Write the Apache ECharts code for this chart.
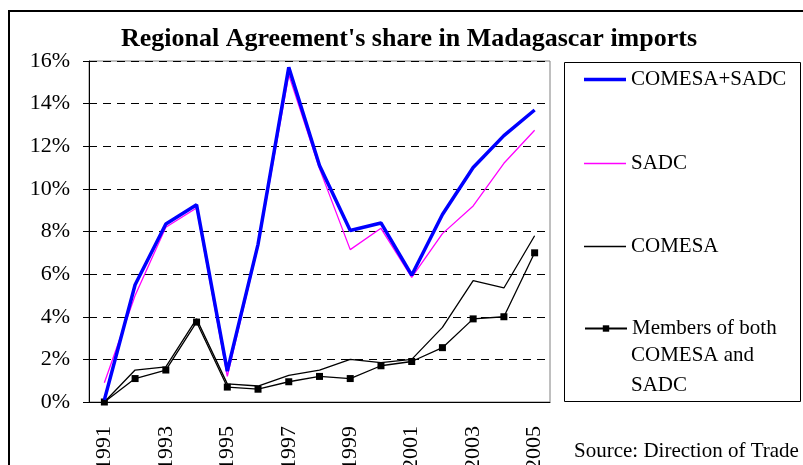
<!DOCTYPE html>
<html>
<head>
<meta charset="utf-8">
<script src="https://cdn.jsdelivr.net/npm/echarts@6/dist/echarts.min.js"></script>
<style>
  html, body { margin: 0; padding: 0; background: #fff; }
  #chart { width: 803px; height: 465px; }
</style>
</head>
<body>
<div id="chart"></div>
<script>
// data (% of Madagascar imports)
const years = ["1991", "1992", "1993", "1994", "1995", "1996", "1997", "1998",
  "1999", "2000", "2001", "2002", "2003", "2004", "2005"];
const comesaSadc = [0.1, 5.5, 8.35, 9.25, 1.45, 7.4, 15.7, 11.1, 8.05, 8.4, 5.95, 8.8, 11.0, 12.5, 13.7];
const sadc = [0.9, 5.0, 8.2, 9.1, 1.2, 7.3, 15.35, 10.95, 7.15, 8.15, 5.85, 7.9, 9.2, 11.2, 12.75];
const comesa = [0.0, 1.5, 1.65, 3.9, 0.85, 0.75, 1.25, 1.5, 2.0, 1.85, 2.0, 3.5, 5.7, 5.35, 7.8];
const bothMembers = [0.0, 1.1, 1.5, 3.75, 0.7, 0.6, 0.95, 1.2, 1.1, 1.7, 1.9, 2.55, 3.9, 4.0, 7.0];

const names = ["COMESA+SADC", "SADC", "COMESA", "Members of both"];

const FONT = '"Liberation Serif", "Times New Roman", serif';

const chart = echarts.init(document.getElementById("chart"), null, { renderer: "canvas" });

// one legend per entry so each can sit at its own height
function legendAt(item, top, opts) {
  return Object.assign({
    data: [item],
    left: 584,
    top: top,
    padding: 0,
    itemWidth: 42,
    itemHeight: 8,
    selectedMode: false,
    itemStyle: { borderWidth: 0 },
    textStyle: { fontFamily: FONT, fontSize: 21, color: "#000" }
  }, opts || {});
}

chart.setOption({
  animation: false,
  backgroundColor: "#fff",
  title: {
    text: "Regional Agreement's share in Madagascar imports",
    left: 116,
    top: 21,
    textStyle: { fontFamily: FONT, fontSize: 26, fontWeight: "bold", color: "#000" }
  },
  legend: [
    legendAt({ name: names[0], icon: "rect" }, 69, { itemHeight: 3.5 }),
    legendAt({ name: names[1], icon: "rect" }, 153, { itemHeight: 1.3 }),
    legendAt({ name: names[2], icon: "rect" }, 236, { itemHeight: 1.3 }),
    legendAt(names[3], 318)
  ],
  grid: {
    left: 89,
    top: 61,
    right: 253,
    bottom: 63,
    containLabel: false,
    outerBoundsMode: "none",
    show: true,
    borderColor: "#808080",
    borderWidth: 1
  },
  xAxis: {
    type: "category",
    data: years,
    boundaryGap: true,
    axisLine: { lineStyle: { color: "#000", width: 1 } },
    axisTick: { interval: 0, length: 7, lineStyle: { color: "#000" } },
    axisLabel: {
      interval: 1,
      rotate: 90,
      margin: 24,
      fontFamily: FONT,
      fontSize: 22,
      color: "#000"
    }
  },
  yAxis: {
    type: "value",
    min: 0,
    max: 16,
    interval: 2,
    axisLine: { show: true, lineStyle: { color: "#000", width: 1 } },
    axisTick: { show: true, length: 6, lineStyle: { color: "#000" } },
    axisLabel: {
      formatter: "{value}%",
      margin: 19,
      fontFamily: FONT,
      fontSize: 22,
      color: "#000"
    },
    splitLine: { lineStyle: { color: "#000", type: [8, 6], width: 1 } }
  },
  series: [
    {
      name: names[0],
      type: "line",
      data: comesaSadc,
      z: 5,
      symbol: "none",
      color: "#0000ff",
      lineStyle: { color: "#0000ff", width: 3.5 }
    },
    {
      name: names[1],
      type: "line",
      data: sadc,
      z: 4,
      symbol: "none",
      color: "#ff00ff",
      lineStyle: { color: "#ff00ff", width: 1.3 }
    },
    {
      name: names[2],
      type: "line",
      data: comesa,
      z: 3,
      symbol: "none",
      color: "#000",
      lineStyle: { color: "#000", width: 1.3 }
    },
    {
      name: names[3],
      type: "line",
      data: bothMembers,
      z: 3,
      symbol: "rect",
      symbolSize: 7,
      color: "#000",
      itemStyle: { color: "#000" },
      lineStyle: { color: "#000", width: 1.3 }
    }
  ],
  graphic: [
    {
      type: "rect",
      silent: true,
      shape: { x: 9, y: 11, width: 820, height: 480 },
      style: { fill: null, stroke: "#000", lineWidth: 2 }
    },
    {
      type: "rect",
      silent: true,
      shape: { x: 564.5, y: 62.5, width: 236, height: 339 },
      style: { fill: null, stroke: "#000", lineWidth: 1 }
    },
    {
      // rest of the last legend entry's name, wrapped under it
      type: "text",
      left: 631,
      top: 340,
      style: { text: "COMESA and\nSADC", fontFamily: FONT, fontSize: 21, lineHeight: 30, fill: "#000" }
    },
    {
      type: "text",
      left: 574,
      top: 441,
      style: { text: "Source: Direction of Trade", fontFamily: FONT, fontSize: 21, fill: "#000" }
    }
  ]
});

window.addEventListener("resize", () => chart.resize());
</script>
</body>
</html>
